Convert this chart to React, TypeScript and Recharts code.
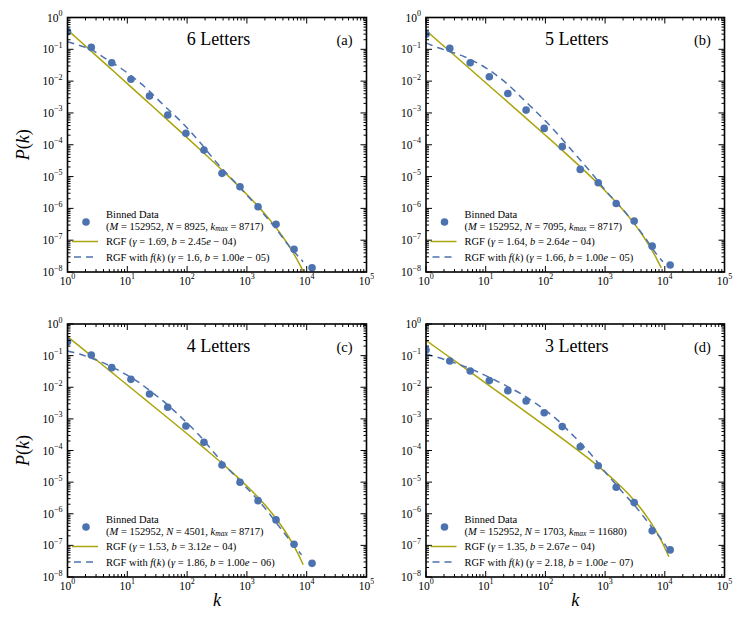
import React from 'react';
import { ComposedChart, Line, Scatter, XAxis, YAxis } from 'recharts';

const FONT = 'Liberation Serif, Times New Roman, Times, serif';
const BLUE = '#4C72B0';
const OLIVE = '#ABA40C';

// ---------- data ----------
const binnedK = [1, 2.5, 5.5, 11.5, 23.5, 47.5, 95.5, 191.5, 383.5, 767.5, 1535.5, 3071.5, 6143.5, 12287.5];
const binned6 = [0.36, 0.115, 0.038, 0.0114, 3.4e-3, 8.6e-4, 2.28e-4, 6.8e-5, 1.26e-5, 4.8e-6, 1.12e-6, 3.15e-7, 5.2e-8, 1.35e-8];
const binned5 = [0.3, 0.107, 0.038, 0.0138, 4.1e-3, 1.23e-3, 3.27e-4, 8.7e-5, 1.68e-5, 6.4e-6, 1.43e-6, 4.0e-7, 6.5e-8, 1.66e-8];
const binned4 = [0.277, 0.105, 0.0417, 0.0178, 6.1e-3, 2.32e-3, 5.97e-4, 1.82e-4, 3.49e-5, 9.9e-6, 2.6e-6, 6.4e-7, 1.08e-7, 2.7e-8];
const binned3 = [0.151, 0.0676, 0.0327, 0.0162, 7.8e-3, 3.68e-3, 1.57e-3, 5.7e-4, 1.32e-4, 3.3e-5, 6.9e-6, 2.25e-6, 2.9e-7, 7.2e-8];

const rgfK = [1, 2, 5, 10, 20, 50, 100, 200, 500, 1000, 1500, 2000, 3000, 4000, 5000, 6000, 7000, 8000, 8717];
const rgf6 = [0.41, 0.127, 0.027, 8.36e-3, 2.58e-3, 5.45e-4, 1.67e-4, 5.05e-5, 9.97e-6, 2.73e-6, 1.22e-6, 6.63e-7, 2.62e-7, 1.26e-7, 6.76e-8, 3.89e-8, 2.34e-8, 1.47e-8, 1.06e-8];
const rgf5 = [0.39, 0.125, 0.0278, 8.91e-3, 2.85e-3, 6.29e-4, 1.99e-4, 6.23e-5, 1.28e-5, 3.6e-6, 1.62e-6, 8.87e-7, 3.51e-7, 1.68e-7, 8.93e-8, 5.09e-8, 3.04e-8, 1.87e-8, 1.35e-8];
const rgf4 = [0.4, 0.138, 0.034, 1.18e-2, 4.06e-3, 9.9e-4, 3.38e-4, 1.13e-4, 2.54e-5, 7.52e-6, 3.46e-6, 1.91e-6, 7.51e-7, 3.54e-7, 1.84e-7, 1.02e-7, 5.9e-8, 3.52e-8, 2.47e-8];
const rgfK3 = [1, 2, 5, 10, 20, 50, 100, 200, 500, 1000, 1500, 2000, 3000, 4000, 5000, 6000, 7000, 8000, 9000, 10000, 11680];
const rgf3 = [0.305, 0.119, 0.0347, 1.36e-2, 5.31e-3, 1.53e-3, 5.92e-4, 2.26e-4, 6.06e-5, 2.08e-5, 1.05e-5, 6.25e-6, 2.77e-6, 1.44e-6, 8.14e-7, 4.88e-7, 3.03e-7, 1.94e-7, 1.26e-7, 8.4e-8, 4.35e-8];

const fkK6 = [1, 1.6, 2.5, 4, 8, 18, 40, 90, 160, 320, 600, 1000, 2000, 3000, 5000, 7000, 8717];
const fk6 = [0.174, 0.132, 0.098, 0.056, 0.0245, 7.6e-3, 1.8e-3, 4.2e-4, 1.25e-4, 2.6e-5, 7.4e-6, 2.6e-6, 6.0e-7, 2.4e-7, 6.8e-8, 3.3e-8, 2.1e-8];
const fkK5 = [1, 1.6, 2.5, 4, 6.3, 10, 16, 25, 40, 63, 100, 160, 250, 400, 630, 1000, 2000, 3000, 5000, 7000, 9300];
const fk5 = [0.158, 0.112, 0.0851, 0.0631, 0.0427, 0.0263, 0.0141, 7.08e-3, 3.02e-3, 1.32e-3, 5.62e-4, 2.19e-4, 8.32e-5, 3.02e-5, 1.12e-5, 3.8e-6, 9.1e-7, 3.63e-7, 1.0e-7, 4.0e-8, 2.1e-8];
const fkK4 = [1, 1.6, 2.5, 4, 6.3, 10, 16, 25, 40, 63, 100, 160, 250, 400, 630, 1000, 2000, 3000, 5000, 7000, 8200];
const fk4 = [0.141, 0.112, 0.0832, 0.0589, 0.0389, 0.024, 0.0138, 7.24e-3, 3.63e-3, 1.7e-3, 7.41e-4, 3.02e-4, 1.12e-4, 3.98e-5, 1.58e-5, 6.46e-6, 1.51e-6, 5.62e-7, 1.62e-7, 7.41e-8, 5.0e-8];
const fkK3 = [1, 1.6, 2.5, 4, 6.3, 10, 16, 25, 40, 63, 100, 160, 250, 400, 630, 1000, 1500, 2000, 3000, 5000, 6300, 8900, 11100];
const fk3 = [0.112, 0.0871, 0.0661, 0.049, 0.0347, 0.0234, 0.0151, 9.77e-3, 6.03e-3, 3.47e-3, 1.86e-3, 9.12e-4, 3.98e-4, 1.62e-4, 6.31e-5, 2.09e-5, 8.7e-6, 4.57e-6, 2.0e-6, 6.0e-7, 3.4e-7, 1.5e-7, 8.1e-8];

const titles = ['6 Letters', '5 Letters', '4 Letters', '3 Letters'];
const letters = ['(a)', '(b)', '(c)', '(d)'];
const nValues = ['8925', '7095', '4501', '1703'];
const kmaxValues = ['8717', '8717', '8717', '11680'];
const rgfGamma = ['1.69', '1.64', '1.53', '1.35'];
const rgfB = ['2.45', '2.64', '3.12', '2.67'];
const rgfBExp = ['04', '04', '04', '04'];
const fkGamma = ['1.6', '1.66', '1.86', '2.18'];
const fkB = ['1.00', '1.00', '1.00', '1.00'];
const fkBExp = ['05', '05', '06', '07'];

const xMajor = [1, 10, 100, 1000, 10000, 100000];
const yMajor = [1e-8, 1e-7, 1e-6, 1e-5, 1e-4, 1e-3, 1e-2, 1e-1, 1];

const withMinors = (majors: number[]) => {
  const out: number[] = [];
  majors.forEach((m, i) => {
    out.push(m);
    if (i < majors.length - 1) for (let d = 2; d <= 9; d++) out.push(m * d);
  });
  return out;
};
const xTicks = withMinors(xMajor);
const yTicks = withMinors(yMajor);

const toPts = (ks: number[], ps: number[]) => ks.map((k, i) => ({ k, p: ps[i] }));

const series = [
  { bin: binned6, rk: rgfK, r: rgf6, fk: fkK6, f: fk6 },
  { bin: binned5, rk: rgfK, r: rgf5, fk: fkK5, f: fk5 },
  { bin: binned4, rk: rgfK, r: rgf4, fk: fkK4, f: fk4 },
  { bin: binned3, rk: rgfK3, r: rgf3, fk: fkK3, f: fk3 },
];

// ---------- layout ----------
const layouts = [
  { left: 0, top: 0, w: 374, h: 310, l: 67.5, t: 17.5, r: 366.5, b: 272, yLabel: true, xLabel: false },
  { left: 374, top: 0, w: 373, h: 310, l: 52, t: 17.5, r: 350.5, b: 272, yLabel: false, xLabel: false },
  { left: 0, top: 310, w: 374, h: 325, l: 67.5, t: 14, r: 366.5, b: 267, yLabel: true, xLabel: true },
  { left: 374, top: 310, w: 373, h: 325, l: 52, t: 14, r: 350.5, b: 267, yLabel: false, xLabel: true },
];

const expOf = (v: number) => Math.round(Math.log10(v));
const isMajor = (v: number) => Math.abs(Math.log10(v) - expOf(v)) < 1e-6;
const expText = (e: number) => (e < 0 ? '\u2212' + Math.abs(e) : String(e));

const TXT = { fontFamily: FONT };

const XTick = (props: any) => {
  const { x, y, payload, plotH } = props;
  const v = payload.value;
  const major = isMajor(v);
  const len = major ? 6 : 3;
  return (
    <g>
      <line x1={x} y1={y} x2={x} y2={y - len} stroke="#000" strokeWidth={1} />
      <line x1={x} y1={y - plotH} x2={x} y2={y - plotH + len} stroke="#000" strokeWidth={1} />
      {major && (
        <text x={x} y={y + 12.5} textAnchor="middle" style={TXT} fontSize={11.5} fill="#000">
          10
          <tspan dy={-5.5} fontSize={8}>
            {expText(expOf(v))}
          </tspan>
        </text>
      )}
    </g>
  );
};

const YTick = (props: any) => {
  const { x, y, payload, plotW } = props;
  const v = payload.value;
  const major = isMajor(v);
  const len = major ? 6 : 3;
  return (
    <g>
      <line x1={x} y1={y} x2={x + len} y2={y} stroke="#000" strokeWidth={1} />
      <line x1={x + plotW} y1={y} x2={x + plotW - len} y2={y} stroke="#000" strokeWidth={1} />
      {major && (
        <text x={x - 5} y={y + 4} textAnchor="end" style={TXT} fontSize={11.5} fill="#000">
          10
          <tspan dy={-5.5} fontSize={8}>
            {expText(expOf(v))}
          </tspan>
        </text>
      )}
    </g>
  );
};

const I = ({ children }: { children: React.ReactNode }) => <tspan fontStyle="italic">{children}</tspan>;

const Panel = ({ idx }: { idx: number }) => {
  const L = layouts[idx];
  const S = series[idx];
  const plotW = L.r - L.l;
  const plotH = L.b - L.t;
  const binned = toPts(binnedK, S.bin);
  const rgf = toPts(S.rk, S.r);
  const fk = toPts(S.fk, S.f);
  const cx = (L.l + L.r) / 2;
  const lf = 10.5;
  return (
    <div style={{ position: 'absolute', left: L.left, top: L.top, width: L.w, height: L.h }}>
      <ComposedChart
        width={L.w}
        height={L.h}
        margin={{ top: L.t, right: L.w - L.r, bottom: 0, left: 0 }}
      >
        <XAxis
          dataKey="k"
          type="number"
          scale="log"
          domain={[1, 100000]}
          allowDataOverflow
          ticks={xTicks}
          interval={0}
          height={L.h - L.b}
          axisLine={false}
          tickLine={false}
          tickSize={0}
          tickMargin={0}
          tick={(p: any) => <XTick {...p} plotH={plotH} />}
        />
        <YAxis
          dataKey="p"
          type="number"
          scale="log"
          domain={[1e-8, 1]}
          allowDataOverflow
          ticks={yTicks}
          interval={0}
          width={L.l}
          axisLine={false}
          tickLine={false}
          tickSize={0}
          tickMargin={0}
          tick={(p: any) => <YTick {...p} plotW={plotW} />}
        />
        <Scatter
          data={binned}
          dataKey="p"
          isAnimationActive={false}
          shape={(p: any) => <circle cx={p.cx} cy={p.cy} r={3.8} fill={BLUE} />}
        />
        <Line
          data={rgf}
          dataKey="p"
          type="monotone"
          stroke={OLIVE}
          strokeWidth={1.5}
          dot={false}
          isAnimationActive={false}
        />
        <Line
          data={fk}
          dataKey="p"
          type="monotone"
          stroke={BLUE}
          strokeWidth={1.5}
          strokeDasharray="7 5"
          dot={false}
          isAnimationActive={false}
        />
      </ComposedChart>
      <svg
        width={L.w}
        height={L.h}
        style={{ position: 'absolute', left: 0, top: 0, pointerEvents: 'none', fontFamily: FONT }}
      >
        <rect x={L.l} y={L.t} width={plotW} height={plotH} fill="none" stroke="#000" strokeWidth={1.6} />
        <text x={cx + 1.5} y={L.t + 27.5} textAnchor="middle" style={TXT} fontSize={18} fill="#000">
          {titles[idx]}
        </text>
        <text x={L.r - 22} y={L.t + 27.5} textAnchor="middle" style={TXT} fontSize={14.5} fill="#000">
          {letters[idx]}
        </text>
        {/* legend */}
        <circle cx={L.l + 18.5} cy={L.b - 50} r={3.8} fill={BLUE} />
        <text x={L.l + 38.5} y={L.b - 54.5} style={TXT} fontSize={lf} fill="#000">
          Binned Data
        </text>
        <text x={L.l + 38.5} y={L.b - 42.5} style={TXT} fontSize={lf} fill="#000">
          (<I>M</I>
          {' = 152952, '}
          <I>N</I>
          {' = ' + nValues[idx] + ', '}
          <I>k</I>
          <tspan fontStyle="italic" fontSize={7.5} dy={1.5}>
            max
          </tspan>
          <tspan dy={-1.5}>{' = ' + kmaxValues[idx] + ')'}</tspan>
        </text>
        <line x1={L.l + 4.5} y1={L.b - 30.5} x2={L.l + 30.5} y2={L.b - 30.5} stroke={OLIVE} strokeWidth={1.5} />
        <text x={L.l + 38.5} y={L.b - 27} style={TXT} fontSize={lf} fill="#000">
          {'RGF ('}
          <I>γ</I>
          {' = ' + rgfGamma[idx] + ', '}
          <I>b</I>
          {' = ' + rgfB[idx]}
          <I>e</I>
          {' \u2212 ' + rgfBExp[idx] + ')'}
        </text>
        <line
          x1={L.l + 4.5}
          y1={L.b - 15}
          x2={L.l + 30.5}
          y2={L.b - 15}
          stroke={BLUE}
          strokeWidth={1.5}
          strokeDasharray="7 5"
          strokeDashoffset={-2}
        />
        <text x={L.l + 38.5} y={L.b - 11.5} style={TXT} fontSize={lf} fill="#000">
          {'RGF with '}
          <I>f</I>
          {'('}
          <I>k</I>
          {') ('}
          <I>γ</I>
          {' = ' + fkGamma[idx] + ', '}
          <I>b</I>
          {' = ' + fkB[idx]}
          <I>e</I>
          {' \u2212 ' + fkBExp[idx] + ')'}
        </text>
        {L.yLabel && (
          <text
            transform={`translate(28.5, ${(L.t + L.b) / 2}) rotate(-90)`}
            textAnchor="middle"
            style={TXT}
            fontSize={18}
            fill="#000"
          >
            <I>P</I>(<I>k</I>)
          </text>
        )}
        {L.xLabel && (
          <text x={cx} y={296} textAnchor="middle" style={TXT} fontSize={18} fill="#000">
            <I>k</I>
          </text>
        )}
      </svg>
    </div>
  );
};

export default function App() {
  return (
    <div
      style={{
        position: 'absolute',
        left: 0,
        top: 0,
        width: 747,
        height: 635,
        background: '#fff',
        fontFamily: FONT,
      }}
    >
      {[0, 1, 2, 3].map((i) => (
        <Panel key={i} idx={i} />
      ))}
    </div>
  );
}
